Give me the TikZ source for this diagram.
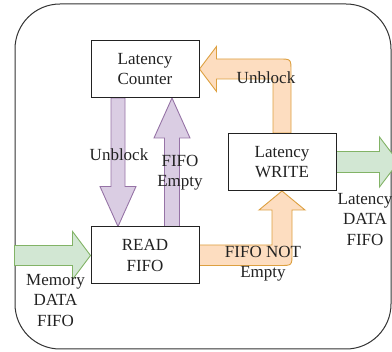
\documentclass[tikz,border=0pt]{standalone}
\usepackage{fontspec}
\setmainfont{Liberation Serif}
\usepackage{xcolor}
\usepackage{tikz}
\usetikzlibrary{calc}
\definecolor{ink}{HTML}{222222}
\definecolor{frameln}{HTML}{333333}
\definecolor{purfill}{HTML}{DACDE3}
\definecolor{purline}{HTML}{9673A6}
\definecolor{orfill}{HTML}{FDDDC0}
\definecolor{orline}{HTML}{DDA040}
\definecolor{grfill}{HTML}{D2E7D3}
\definecolor{grline}{HTML}{82B366}
\newcommand{\labfont}{\fontsize{17}{20.5}\selectfont}
\pgfdeclarelayer{bg}
\pgfsetlayers{bg,main}
\tikzset{
  frame/.style={draw=frameln, line width=1pt, rounded corners=45pt},
  box/.style={draw=ink, line width=1pt, fill=white, minimum width=108pt, minimum height=57pt, inner sep=0pt, align=center, text=ink, font=\labfont},
  purarr/.style={draw=purline, fill=purfill, line width=0.9pt, line join=miter},
  orarr/.style={draw=orline, fill=orfill, line width=0.9pt, line join=miter},
  grarr/.style={draw=grline, fill=grfill, line width=0.9pt, line join=miter},
  lab/.style={text=ink, font=\labfont, align=center, inner sep=0pt},
}
\begin{document}
\begin{tikzpicture}[x=1pt,y=-1pt]
  \useasboundingbox (0,0) rectangle (392,352);
  \node[box] (cnt) at (145,69) {Latency\\Counter};
  \node[box] (wr) at (282,162) {Latency\\WRITE};
  \node[box] (rd) at (145,255.5) {READ\\FIFO};
  \coordinate (ubS) at ($(cnt.south)+(-27,0)$);
  \coordinate (ubT) at ($(rd.north)+(-27,0)$);
  \coordinate (feS) at ($(rd.north)+(27,0)$);
  \coordinate (feT) at ($(cnt.south)+(27,0)$);
  \coordinate (ubC) at (wr.north |- cnt.east);
  \coordinate (fnC) at (wr.south |- rd.east);
  \coordinate (memS) at ($(rd.west)+(-76,0)$);
  \coordinate (latT) at ($(wr.east)+(62,0)$);
  \begin{pgfonlayer}{bg}
    \draw[frame] (15,4) rectangle (391,349);
    \draw[purarr] ($(ubS)+(-7,0)$) -- ($(ubT)+(-7,-40)$) -- ($(ubT)+(-18,-40)$) -- (ubT)
      -- ($(ubT)+(18,-40)$) -- ($(ubT)+(7,-40)$) -- ($(ubS)+(7,0)$) -- cycle;
    \draw[purarr] ($(feS)+(-7.5,0)$) -- ($(feT)+(-7.5,40)$) -- ($(feT)+(-18,40)$) -- (feT)
      -- ($(feT)+(18,40)$) -- ($(feT)+(7.5,40)$) -- ($(feS)+(7.5,0)$) -- cycle;
    \draw[orarr] ($(wr.north)+(-9,0)$) -- ($(ubC)+(-9,10)$) -- ($(cnt.east)+(17,10)$)
      -- ($(cnt.east)+(17,22.5)$) -- (cnt.east) -- ($(cnt.east)+(17,-22.5)$) -- ($(cnt.east)+(17,-10)$)
      -- ($(ubC)+(-3,-10)$) .. controls ($(ubC)+(9,-10)$) .. ($(ubC)+(9,2)$) -- ($(wr.north)+(9,0)$) -- cycle;
    \draw[orarr] ($(rd.east)+(0,-10.5)$) -- ($(fnC)+(-10,-10.5)$) -- ($(wr.south)+(-10,19)$)
      -- ($(wr.south)+(-23,19)$) -- (wr.south) -- ($(wr.south)+(23,19)$) -- ($(wr.south)+(10,19)$)
      -- ($(fnC)+(10,-2)$) .. controls ($(fnC)+(10,10)$) .. ($(fnC)+(-2,10)$) -- ($(rd.east)+(0,10)$) -- cycle;
    \draw[grarr] ($(memS)+(0,-10)$) -- ($(rd.west)+(-18,-10)$) -- ($(rd.west)+(-18,-24)$) -- (rd.west)
      -- ($(rd.west)+(-18,24)$) -- ($(rd.west)+(-18,10)$) -- ($(memS)+(0,10)$) -- cycle;
    \draw[grarr] ($(wr.east)+(0,-10.5)$) -- ($(latT)+(-19,-10.5)$) -- ($(latT)+(-19,-25)$) -- (latT)
      -- ($(latT)+(-19,25)$) -- ($(latT)+(-19,10.5)$) -- ($(wr.east)+(0,10.5)$) -- cycle;
  \end{pgfonlayer}
  \node[lab] (ubL) at (119,155) {Unblock};
  \node[lab] (feL) at (180,172.5) {FIFO\\Empty};
  \node[lab] (ub2L) at (266,78) {Unblock};
  \node[lab] (fnL) at (263,263.5) {FIFO NOT\\Empty};
  \node[lab] (latL) at (365,219.5) {Latency\\DATA\\FIFO};
  \node[lab] (memL) at (55.5,300.5) {Memory\\DATA\\FIFO};
\end{tikzpicture}
\end{document}
